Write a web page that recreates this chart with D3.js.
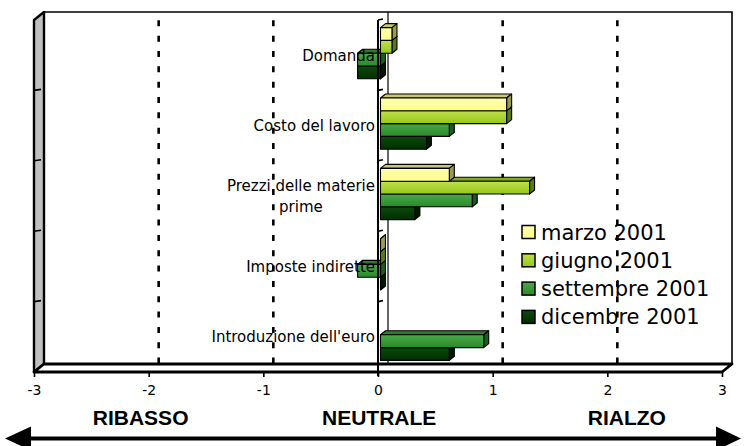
<!DOCTYPE html>
<html>
<head>
<meta charset="utf-8">
<script src="https://cdn.jsdelivr.net/npm/d3@7"></script>
<style>
  html, body { margin: 0; padding: 0; background: #fff; }
  svg { display: block; }
</style>
</head>
<body>
<svg id="chart" width="744" height="446"></svg>
<script>
// Categories (top to bottom) and their label lines
const categories = ["Domanda", "Costo del lavoro", "Prezzi delle materie prime", "Imposte indirette", "Introduzione dell'euro"];
const categoryLines = [["Domanda"], ["Costo del lavoro"], ["Prezzi delle materie", "prime"], ["Imposte indirette"], ["Introduzione dell'euro"]];

// Survey periods
const seriesNames = ["marzo 2001", "giugno 2001", "settembre 2001", "dicembre 2001"];

// Values per period, one entry per category (null = no answer)
const marzo     = [0.1, 1.1, 0.6, 0.0, null];
const giugno    = [0.1, 1.1, 1.3, 0.0, null];
const settembre = [-0.2, 0.6, 0.8, -0.2, 0.9];
const dicembre  = [-0.2, 0.4, 0.3, 0.0, 0.6];
const seriesValues = [marzo, giugno, settembre, dicembre];

// Value axis ticks and direction captions (placed along the value scale)
const tickValues = [-3, -2, -1, 0, 1, 2, 3];
const directionLabels = ["RIBASSO", "NEUTRALE", "RIALZO"];
const directionValues = [-2.07, 0.01, 2.17];

const faceColors = [
  { top: "#ffffb0", bottom: "#ffff88", side: "#9a9a55", lid: "#c8c870" },
  { top: "#bfe04c", bottom: "#96c818", side: "#5c7a10", lid: "#86a828" },
  { top: "#4aaa4a", bottom: "#2a8a2a", side: "#1c5c1c", lid: "#2f7a2f" },
  { top: "#0c4a0c", bottom: "#002e00", side: "#001a00", lid: "#0a3a0a" }
];

const svg = d3.select("#chart");
const defs = svg.append("defs");
faceColors.forEach((c, i) => {
  const g = defs.append("linearGradient").attr("id", "grad" + i)
    .attr("x1", 0).attr("y1", 0).attr("x2", 0).attr("y2", 1);
  g.append("stop").attr("offset", "0%").attr("stop-color", c.top);
  g.append("stop").attr("offset", "100%").attr("stop-color", c.bottom);
});

// Front plane geometry and 3D depth offset
const x = d3.scaleLinear().domain([-3, 3]).range([34, 722]);
const y = d3.scaleBand().domain(categories).range([20, 372]);
const ys = d3.scaleBand().domain(seriesNames).range([0, y.bandwidth()]).paddingOuter(0.75);
const DX = 10, DY = -8;              // full depth of the box
const barFront = 0.25, barBack = 0.75; // bars occupy the middle of the depth

const yTop = y.range()[0], yBot = y.range()[1];
const xL = x.range()[0], xR = x.range()[1];

// Back wall gridlines (dashed) and zero line
const grid = svg.append("g");
tickValues.filter(v => v !== -3 && v !== 3 && v !== 0).forEach(v => {
  grid.append("line")
    .attr("x1", x(v) + DX).attr("x2", x(v) + DX)
    .attr("y1", yTop + DY).attr("y2", yBot + DY)
    .attr("stroke", "#000").attr("stroke-width", 2.6)
    .attr("stroke-dasharray", "6,9.33").attr("stroke-dashoffset", 7);
});
grid.append("line")
  .attr("x1", x(0) + DX).attr("x2", x(0) + DX)
  .attr("y1", yTop + DY).attr("y2", yBot + DY)
  .attr("stroke", "#000").attr("stroke-width", 1.2);

// Back wall outline (top and right edges)
svg.append("path")
  .attr("d", `M${xL + DX},${yTop + DY} L${xR + DX},${yTop + DY} L${xR + DX},${yBot + DY}`)
  .attr("fill", "none").attr("stroke", "#000").attr("stroke-width", 1.6);

// Left side wall
svg.append("path")
  .attr("d", `M${xL},${yTop} L${xL + DX},${yTop + DY} L${xL + DX},${yBot + DY} L${xL},${yBot} Z`)
  .attr("fill", "#c0c0c0").attr("stroke", "#000").attr("stroke-width", 2.4).attr("stroke-linejoin", "round");
// Category marks on the side wall
categories.slice(1).forEach(c => {
  svg.append("line").attr("x1", xL).attr("x2", xL + 7)
    .attr("y1", y(c)).attr("y2", y(c) - 1)
    .attr("stroke", "#000").attr("stroke-width", 1.6);
});

// Floor
svg.append("path")
  .attr("d", `M${xL},${yBot} L${xL + DX},${yBot + DY} L${xR + DX},${yBot + DY} L${xR},${yBot} Z`)
  .attr("fill", "#fff").attr("stroke", "#000").attr("stroke-width", 2.8).attr("stroke-linejoin", "round");

// Bars as boxes: draw lower series first so upper ones sit over their lids
const fx = barFront * DX, fy = barFront * DY;
const dd = (barBack - barFront) * DX, ddy = (barBack - barFront) * DY;
const bars = svg.append("g");
categories.forEach((cat, ci) => {
  for (let si = seriesNames.length - 1; si >= 0; si--) {
    const v = seriesValues[si][ci];
    if (v === null) continue;
    const x0 = x(Math.min(0, v)) + fx, x1 = x(Math.max(0, v)) + fx;
    const t = y(cat) + ys(seriesNames[si]) + fy, b = t + ys.bandwidth();
    const c = faceColors[si];
    const g = bars.append("g").attr("stroke", "#000").attr("stroke-width", 1.1).attr("stroke-linejoin", "round");
    // top face
    g.append("path").attr("d", `M${x0},${t} L${x1},${t} L${x1 + dd},${t + ddy} L${x0 + dd},${t + ddy} Z`)
      .attr("fill", c.lid);
    // right face
    g.append("path").attr("d", `M${x1},${t} L${x1 + dd},${t + ddy} L${x1 + dd},${b + ddy} L${x1},${b} Z`)
      .attr("fill", c.side);
    // front face
    g.append("rect").attr("x", x0).attr("y", t).attr("width", x1 - x0).attr("height", b - t)
      .attr("fill", `url(#grad${si})`);
  }
});

// Category axis at value zero (front plane)
const x0p = x(0);
svg.append("line").attr("x1", x0p).attr("x2", x0p).attr("y1", yTop).attr("y2", yBot + 4)
  .attr("stroke", "#000").attr("stroke-width", 2);
categories.forEach(c => {
  svg.append("line").attr("x1", x0p).attr("x2", x0p + 5).attr("y1", y(c)).attr("y2", y(c) - 1)
    .attr("stroke", "#000").attr("stroke-width", 1.6);
});

// Category labels
const labels = svg.append("g").attr("font-family", "'DejaVu Sans', Verdana, sans-serif")
  .attr("font-size", 15).attr("fill", "#000");
categories.forEach((cat, ci) => {
  const lines = categoryLines[ci];
  const cy = y(cat) + y.bandwidth() / 2;
  const lineH = 21;
  const base = cy + 5.5 - (lines.length - 1) * lineH / 2;
  const first = labels.append("text").attr("x", 375).attr("y", base)
    .attr("text-anchor", "end").text(lines[0]);
  const w = first.node().getComputedTextLength();
  for (let k = 1; k < lines.length; k++) {
    labels.append("text").attr("x", 375 - w / 2).attr("y", base + k * lineH)
      .attr("text-anchor", "middle").text(lines[k]);
  }
});

// Value axis along the front edge of the floor
const axis = d3.axisBottom(x).tickValues(tickValues).tickSize(5).tickPadding(8).tickFormat(d3.format("d"));
const ax = svg.append("g").attr("transform", `translate(0,${yBot})`).call(axis);
ax.select(".domain").remove();
ax.selectAll(".tick line").attr("stroke", "#000").attr("stroke-width", 1.6);
ax.selectAll(".tick text").attr("font-family", "'DejaVu Sans', Verdana, sans-serif")
  .attr("font-size", 14).attr("fill", "#000")
  .text(d => d < 0 ? "-" + Math.abs(d) : d);

// Legend
const legend = svg.append("g").attr("font-family", "'DejaVu Sans', Verdana, sans-serif").attr("font-size", 21);
seriesNames.forEach((s, i) => {
  const cy = 232 + i * 28.3;
  legend.append("rect").attr("x", 522).attr("y", cy - 6.5).attr("width", 13).attr("height", 13)
    .attr("fill", `url(#grad${i})`).attr("stroke", "#000").attr("stroke-width", 1.5);
  legend.append("text").attr("x", 541).attr("y", cy + 7.5).attr("fill", "#000").text(s);
});

// Direction captions and double arrow
svg.append("g").selectAll("text").data(directionLabels).join("text")
  .attr("x", (d, i) => x(directionValues[i]))
  .attr("y", 425)
  .attr("text-anchor", "middle")
  .attr("font-family", "'Liberation Sans', Arial, sans-serif").attr("font-weight", "bold")
  .attr("font-size", 21).attr("fill", "#000")
  .text(d => d);

const ay = 438.5;
svg.append("line").attr("x1", 25).attr("x2", 722).attr("y1", ay).attr("y2", ay)
  .attr("stroke", "#000").attr("stroke-width", 4);
svg.append("path").attr("d", `M5,${ay} L31,${ay - 12} L31,${ay + 12} Z`).attr("fill", "#000");
svg.append("path").attr("d", `M741,${ay} L716,${ay - 12} L716,${ay + 12} Z`).attr("fill", "#000");
</script>
</body>
</html>
